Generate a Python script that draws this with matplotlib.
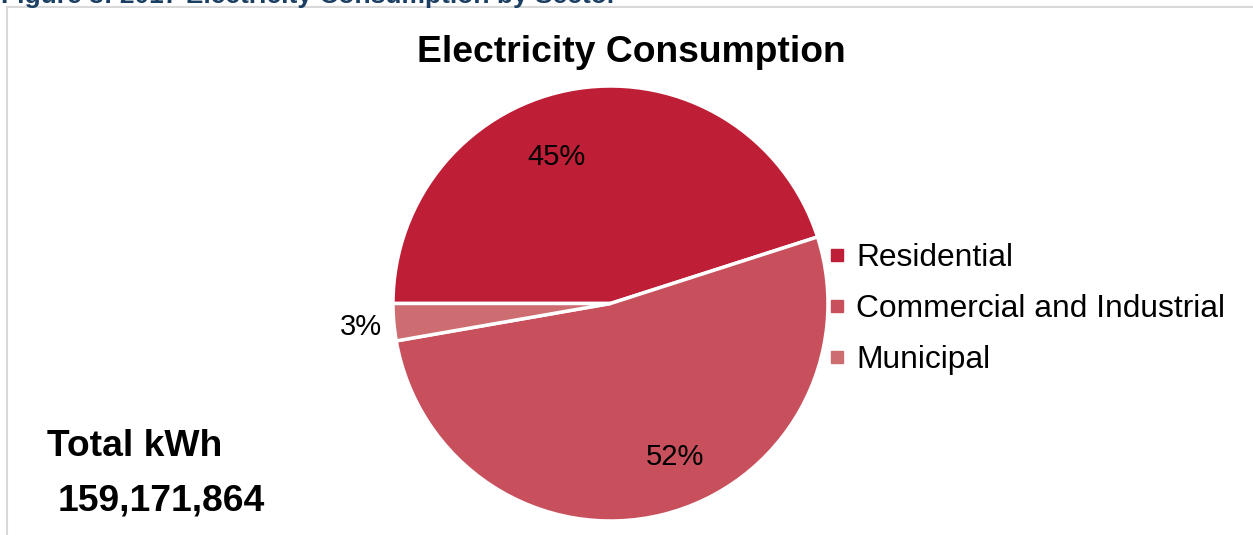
import matplotlib
matplotlib.use("Agg")
import matplotlib.pyplot as plt
from matplotlib.lines import Line2D

plt.rcParams['font.family'] = ['Liberation Sans', 'DejaVu Sans']

categories = ["Residential", "Commercial and Industrial", "Municipal"]
shares = [45.05, 52.2, 2.75]
labels_pct = ["45%", "52%", "3%"]
colors = ["#BE1E36", "#C8505D", "#CD6C71"]
title = "Electricity Consumption"
caption = "Figure 8: 2017 Electricity Consumption by Sector"
total_label = "Total kWh"
total_value = "159,171,864"

W, H = 1253, 535
fig = plt.figure(figsize=(W / 100, H / 100), dpi=100)

def fx(px):
    return px / W

def fy(py):
    return 1 - py / H

# frame lines
fig.add_artist(Line2D([fx(7), 1], [fy(7), fy(7)], color="#D9D9D9", lw=1.5))
fig.add_artist(Line2D([fx(7), fx(7)], [fy(7), 0], color="#D9D9D9", lw=1.5))

# caption (cut off at top, as in the reference)
fig.text(fx(1), fy(3), caption, color="#1B3F63", fontsize=19, fontweight="bold",
         ha="left", va="baseline")

cx, cy, r = 610.5, 303.5, 217.5
ax = fig.add_axes([fx(cx - r), fy(cy + r), 2 * r / W, 2 * r / H])
wedges, _ = ax.pie(shares, colors=colors, startangle=180, counterclock=False,
                   radius=1, wedgeprops=dict(edgecolor="white", linewidth=2.5))
ax.set_xlim(-1, 1)
ax.set_ylim(-1, 1)
ax.set_aspect("auto")
ax.axis("off")

# percent labels
label_pos = [(556, 157), (675, 457), (361, 327)]
for (px, py), t in zip(label_pos, labels_pct):
    fig.text(fx(px), fy(py), t, fontsize=21, ha="center", va="center")

fig.text(fx(631), fy(52), title, fontsize=26.8, fontweight="bold", ha="center", va="center")

fig.text(fx(47), fy(447), total_label, fontsize=26.8, fontweight="bold", ha="left", va="center")
fig.text(fx(58), fy(501), total_value, fontsize=26.8, fontweight="bold", ha="left", va="center")

handles = [Line2D([], [], marker="s", linestyle="none", markersize=8,
                  markerfacecolor=c, markeredgecolor=c) for c in colors]
fig.legend(handles, categories, loc="upper left", bbox_to_anchor=(fx(829), fy(243)),
           frameon=False, fontsize=22.9, handlelength=0.5, handletextpad=0.35,
           labelspacing=0.66, borderaxespad=0, borderpad=0)

fig.savefig("out.png", dpi=100, facecolor="white")
